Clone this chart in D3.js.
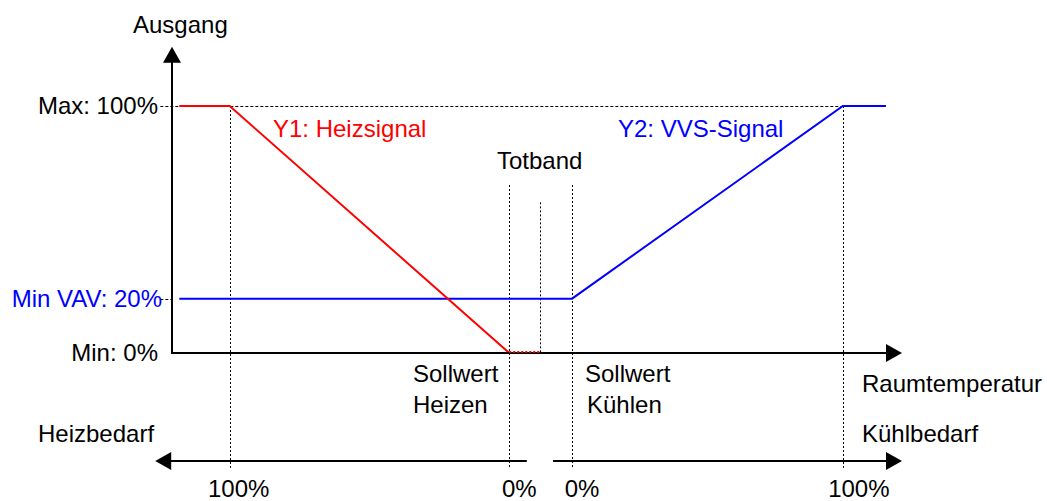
<!DOCTYPE html>
<html>
<head>
<meta charset="utf-8">
<script src="https://cdn.jsdelivr.net/npm/d3@7"></script>
<style>
  html, body { margin: 0; padding: 0; background: #fff; }
  svg { display: block; }
  text { font-family: "Liberation Sans", Arial, sans-serif; font-size: 24px; fill: #000; }
</style>
</head>
<body>
<svg id="chart" width="1047" height="501"></svg>
<script>
// Output levels (y, %) and their labels
const outputTickValues = [100, 22, 0];
const outputTickLabels = ["Max: 100%", "Min VAV: 20%", "Min: 0%"];
const outputTickColors = ["#000", "#0000ff", "#000"];

// Y1 heating signal (x = room temperature position, % of axis)
const heatX = [1, 7.9, 46.2];
const heatY = [100, 100, 0];
// dead band part of Y1 (dotted)
const deadX = [46.2, 50.4];
const deadY = [0, 0];

// Y2 VVS signal
const vvsX = [1, 54.8, 91.9, 97.8];
const vvsY = [22, 22, 100, 100];

// demand scale under the chart
const demandTicks = [7.9, 46.2, 54.8, 91.9];
const demandLabels = ["100%", "0%", "0%", "100%"];

const svg = d3.select("#chart");
const x = d3.scaleLinear().domain([0, 100]).range([172, 902]);
const y = d3.scaleLinear().domain([0, 100]).range([353, 106]);

const line = d3.line().x((d) => x(d[0])).y((d) => y(d[1]));
const black = "#000";

function crisp(v) {
  return Math.round(v) + 0.5;
}

function dotted(x1, y1, x2, y2) {
  const vertical = x1 === x2;
  svg.append("line")
    .attr("x1", vertical ? crisp(x(x1)) : x(x1)).attr("y1", vertical ? y(y1) : crisp(y(y1)))
    .attr("x2", vertical ? crisp(x(x2)) : x(x2)).attr("y2", vertical ? y(y2) : crisp(y(y2)))
    .attr("stroke", black).attr("stroke-width", 1)
    .attr("stroke-dasharray", vertical ? "2,2" : "3,2");
}

function arrowHead(tipX, tipY, dir) {
  // dir: "up", "right", "left"
  const len = 16, half = 9;
  let pts;
  if (dir === "up") pts = [[tipX, tipY], [tipX - half, tipY + len], [tipX + half, tipY + len]];
  if (dir === "right") pts = [[tipX, tipY], [tipX - len, tipY - half], [tipX - len, tipY + half]];
  if (dir === "left") pts = [[tipX, tipY], [tipX + len, tipY - half], [tipX + len, tipY + half]];
  svg.append("path").attr("d", "M" + pts.join("L") + "Z").attr("fill", black);
}

// dotted guide lines
dotted(-1.6, 100, 91.9, 100);
dotted(-1.6, 22, 0, 22);
dotted(7.9, 100, 7.9, -46.5);
dotted(46.2, 68, 46.2, -46.5);
dotted(50.4, 61, 50.4, 0);
dotted(54.8, 68, 54.8, -46.5);
dotted(91.9, 100, 91.9, -46.5);

// signals
svg.append("path")
  .datum(d3.zip(vvsX, vvsY))
  .attr("d", line).attr("fill", "none").attr("stroke", "#0000ff").attr("stroke-width", 2);
svg.append("path")
  .datum(d3.zip(heatX, heatY))
  .attr("d", line).attr("fill", "none").attr("stroke", "#ff0000").attr("stroke-width", 2);

// axes
const x0 = x(0), y0 = y(0);
svg.append("line").attr("x1", x0).attr("y1", y0).attr("x2", x0).attr("y2", y(118))
  .attr("stroke", black).attr("stroke-width", 2);
arrowHead(x0, y(124), "up");
svg.append("line").attr("x1", x0 - 1).attr("y1", y0).attr("x2", x(98)).attr("y2", y0)
  .attr("stroke", black).attr("stroke-width", 2);
arrowHead(x(100), y0, "right");

svg.append("path")
  .datum(d3.zip(deadX, deadY.map((v) => v + 0.4)))
  .attr("d", line).attr("fill", "none").attr("stroke", "#ff0000").attr("stroke-width", 2)
  .attr("stroke-dasharray", "2,2");

// demand arrows
const yd = y(-43.7);
svg.append("line").attr("x1", x(48.6)).attr("y1", yd).attr("x2", x(-0.5)).attr("y2", yd)
  .attr("stroke", black).attr("stroke-width", 2);
arrowHead(x(-2.3), yd, "left");
svg.append("line").attr("x1", x(52.2)).attr("y1", yd).attr("x2", x(98)).attr("y2", yd)
  .attr("stroke", black).attr("stroke-width", 2);
arrowHead(x(100), yd, "right");

// output labels
outputTickValues.forEach((v, i) => {
  svg.append("text")
    .attr("x", i === 1 ? x0 - 10 : x0 - 14)
    .attr("y", y(v) + 8)
    .attr("text-anchor", "end")
    .style("fill", outputTickColors[i])
    .text(outputTickLabels[i]);
});

const demandOffsets = [9, 10, 10, 16];
demandTicks.forEach((v, i) => {
  svg.append("text")
    .attr("x", x(v) + demandOffsets[i]).attr("y", 497)
    .attr("text-anchor", "middle")
    .text(demandLabels[i]);
});

function label(txt, px, py, color) {
  svg.append("text").attr("x", px).attr("y", py).style("fill", color || black).text(txt);
}

label("Ausgang", 133, 33);
label("Y1: Heizsignal", 273, 137, "#ff0000");
label("Y2: VVS-Signal", 618, 137, "#0000ff");
label("Totband", 497, 169);
label("Sollwert", 413, 382);
label("Heizen", 413, 413);
label("Sollwert", 585, 382);
label("Kühlen", 587, 413);
label("Raumtemperatur", 862, 392);
label("Heizbedarf", 38, 442);
label("Kühlbedarf", 862, 442);
</script>
</body>
</html>
